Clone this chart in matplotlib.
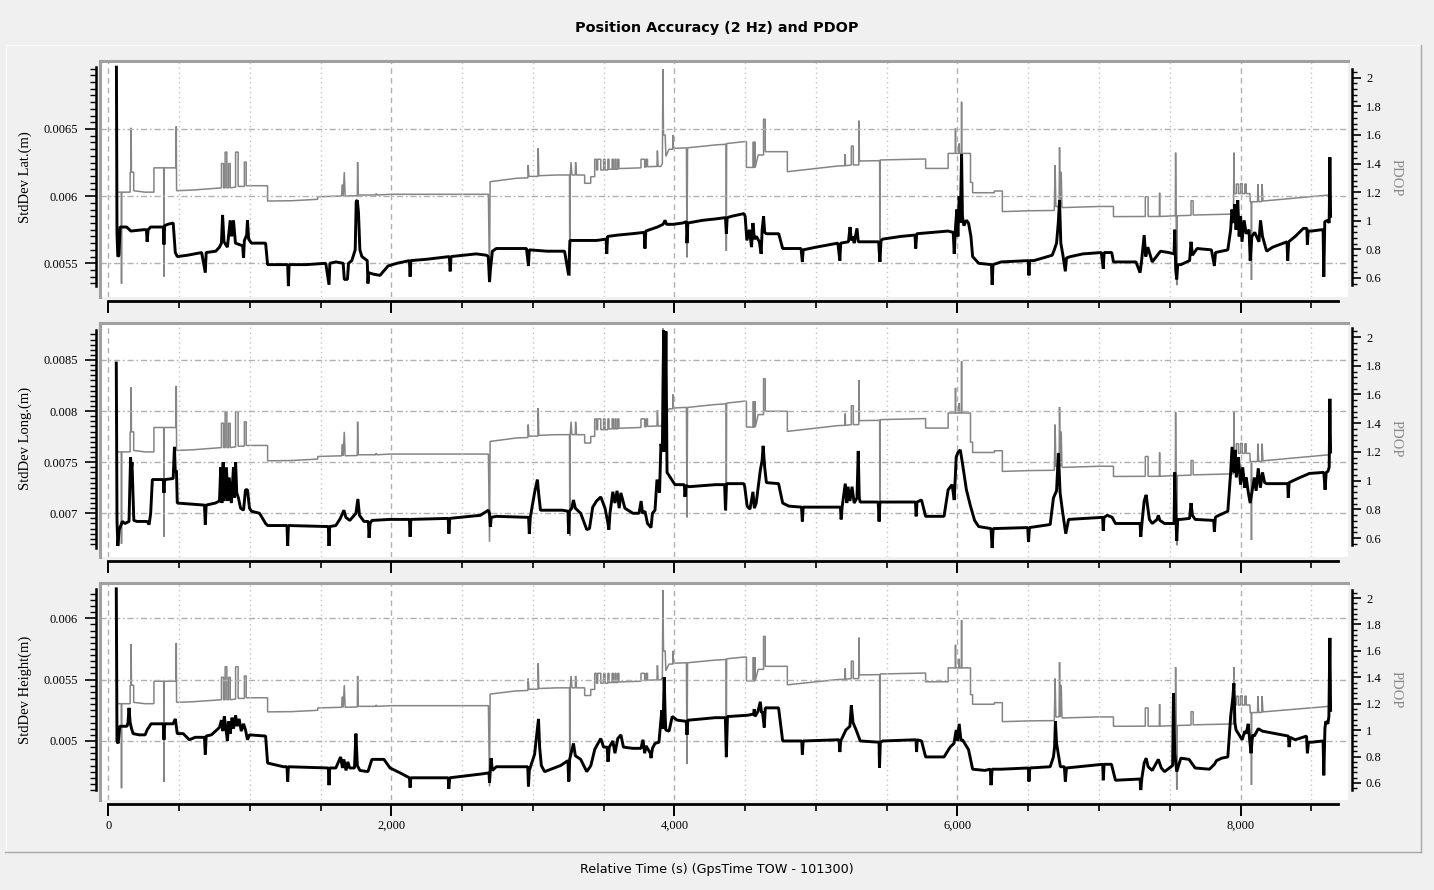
import numpy as np
import matplotlib
matplotlib.use("Agg")
import matplotlib.pyplot as plt
from matplotlib.lines import Line2D
from matplotlib.ticker import FixedLocator, FuncFormatter

# ---------------- data (time in s) ----------------
PDOP = [
    (62, 1.20), (92, 1.20), (94, 0.56), (96, 1.20), (155, 1.20), (155, 1.34), (161, 1.34), (162, 1.65),
    (164, 1.34), (180, 1.34), (180, 1.21), (260, 1.20), (323, 1.20), (323, 1.37), (392, 1.37), (394, 0.61),
    (396, 1.37), (479, 1.37), (481, 1.66), (483, 1.21), (600, 1.215), (729, 1.225), (800, 1.23), (800, 1.40),
    (815, 1.40), (815, 1.23), (826, 1.23), (826, 1.48), (838, 1.48), (838, 1.23), (850, 1.23), (850, 1.40),
    (862, 1.40), (862, 1.23), (900, 1.235), (900, 1.48), (918, 1.48), (918, 1.24), (962, 1.24), (962, 1.41),
    (975, 1.41), (975, 1.245), (1126, 1.245), (1126, 1.138), (1296, 1.14), (1480, 1.15), (1480, 1.168),
    (1650, 1.173), (1652, 1.25), (1658, 1.25), (1660, 1.173), (1668, 1.34), (1674, 1.173), (1760, 1.175),
    (1762, 1.41), (1766, 1.18), (1890, 1.18), (1892, 1.19), (1900, 1.18), (1997, 1.185), (2686, 1.185),
    (2694, 0.574), (2698, 1.273), (2884, 1.297), (2965, 1.30), (2967, 1.39), (2972, 1.31), (3036, 1.31),
    (3038, 1.506), (3042, 1.315), (3168, 1.32), (3259, 1.32), (3261, 0.614), (3264, 1.32), (3270, 1.41),
    (3276, 1.32), (3300, 1.32), (3302, 1.41), (3308, 1.32), (3366, 1.32), (3366, 1.262), (3409, 1.262),
    (3409, 1.308), (3437, 1.308), (3437, 1.43), (3450, 1.43), (3450, 1.355), (3458, 1.355), (3458, 1.43),
    (3480, 1.43), (3480, 1.355), (3500, 1.355), (3500, 1.43), (3510, 1.43), (3510, 1.355), (3530, 1.355),
    (3530, 1.43), (3538, 1.43), (3538, 1.36), (3560, 1.36), (3560, 1.43), (3568, 1.43), (3568, 1.36),
    (3580, 1.36), (3580, 1.43), (3588, 1.43), (3588, 1.36), (3600, 1.36), (3600, 1.43), (3608, 1.43),
    (3608, 1.365), (3764, 1.37), (3764, 1.43), (3790, 1.43), (3790, 1.375), (3800, 1.375), (3800, 1.43),
    (3810, 1.43), (3810, 1.378), (3877, 1.38), (3880, 1.49), (3885, 1.38), (3905, 1.38), (3915, 1.40),
    (3919, 2.06), (3923, 1.60), (3935, 1.60), (3940, 1.45), (3962, 1.50), (3988, 1.50), (3990, 1.60),
    (3993, 1.506), (4085, 1.51), (4089, 0.744), (4093, 1.51), (4289, 1.53), (4365, 1.535), (4367, 0.79),
    (4369, 1.54), (4491, 1.553), (4509, 1.553), (4509, 1.373), (4556, 1.373), (4558, 1.553), (4560, 1.373),
    (4567, 1.373), (4569, 1.553), (4571, 1.373), (4592, 1.46), (4630, 1.46), (4630, 1.71), (4642, 1.71),
    (4642, 1.483), (4798, 1.483), (4798, 1.343), (5155, 1.383), (5205, 1.385), (5207, 1.467), (5209, 1.385),
    (5250, 1.39), (5250, 1.522), (5264, 1.522), (5264, 1.39), (5303, 1.39), (5305, 1.70), (5307, 1.418),
    (5450, 1.42), (5452, 0.714), (5454, 1.425), (5775, 1.432), (5775, 1.366), (5934, 1.366), (5934, 1.471),
    (5984, 1.471), (5986, 1.646), (5988, 1.471), (6010, 1.471), (6012, 1.54), (6014, 1.471), (6027, 1.471),
    (6029, 1.832), (6031, 1.471), (6092, 1.471), (6092, 1.268), (6107, 1.268), (6107, 1.196), (6260, 1.196),
    (6260, 1.208), (6317, 1.208), (6317, 1.064), (6511, 1.07), (6684, 1.072), (6690, 1.39), (6695, 1.10),
    (6718, 1.10), (6721, 1.513), (6726, 1.10), (6733, 1.343), (6738, 1.10), (6741, 1.092), (7001, 1.10),
    (7102, 1.10), (7102, 1.029), (7327, 1.03), (7327, 1.168), (7347, 1.168), (7347, 1.03), (7426, 1.03),
    (7428, 1.196), (7430, 1.03), (7539, 1.035), (7541, 1.476), (7545, 1.035), (7549, 0.55), (7553, 1.035),
    (7650, 1.038), (7650, 1.14), (7665, 1.14), (7665, 1.04), (7930, 1.047), (7950, 1.047), (7953, 1.476),
    (7956, 1.19), (7970, 1.19), (7970, 1.257), (7985, 1.257), (7985, 1.19), (8000, 1.19), (8000, 1.26),
    (8012, 1.26), (8012, 1.19), (8030, 1.19), (8030, 1.257), (8040, 1.257), (8040, 1.19), (8066, 1.19),
    (8068, 1.133), (8075, 1.133), (8077, 0.586), (8079, 1.133), (8120, 1.133), (8122, 1.257), (8128, 1.133),
    (8150, 1.135), (8152, 1.257), (8158, 1.138), (8617, 1.18), (8625, 1.18),
]

LAT = [
    (58, 0.00696), (62, 0.00572), (68, 0.00555), (76, 0.00556), (84, 0.00577), (130, 0.00577), (160, 0.00574),
    (250, 0.00575), (270, 0.00575), (275, 0.00566), (282, 0.00575), (300, 0.00577), (389, 0.00577),
    (394, 0.00564), (399, 0.00578), (420, 0.00579), (459, 0.00580), (474, 0.00558), (488, 0.00555),
    (560, 0.00556), (660, 0.00558), (686, 0.00543), (692, 0.00558), (760, 0.00559), (786, 0.00562),
    (800, 0.00565), (808, 0.00586), (818, 0.00566), (842, 0.00562), (862, 0.00582), (872, 0.00570),
    (885, 0.00582), (899, 0.00565), (950, 0.00563), (956, 0.00554), (962, 0.00567), (978, 0.00571),
    (984, 0.00582), (992, 0.00568), (1012, 0.00565), (1112, 0.00565), (1126, 0.00549), (1268, 0.00549),
    (1273, 0.00533), (1278, 0.00549), (1400, 0.00549), (1537, 0.00550), (1560, 0.00534), (1566, 0.00550),
    (1608, 0.00551), (1660, 0.00550), (1668, 0.00538), (1690, 0.00538), (1698, 0.00550), (1721, 0.00552),
    (1745, 0.00560), (1752, 0.00596), (1760, 0.00597), (1768, 0.00588), (1778, 0.00560), (1792, 0.00555),
    (1830, 0.00552), (1835, 0.00535), (1840, 0.00543), (1870, 0.00542), (1920, 0.00541), (1977, 0.00548),
    (2040, 0.00550), (2128, 0.00552), (2133, 0.00540), (2138, 0.00552), (2250, 0.00553), (2410, 0.00555),
    (2416, 0.00544), (2422, 0.00555), (2600, 0.00557), (2672, 0.00556), (2685, 0.00555), (2694, 0.00536),
    (2700, 0.00545), (2714, 0.00559), (2742, 0.00561), (2955, 0.00561), (2969, 0.00548), (2975, 0.00560),
    (3100, 0.00559), (3224, 0.00559), (3253, 0.00541), (3262, 0.00567), (3451, 0.00567), (3518, 0.00568),
    (3522, 0.00557), (3528, 0.00570), (3600, 0.00571), (3700, 0.00572), (3787, 0.00573), (3792, 0.00561),
    (3798, 0.00574), (3880, 0.00577), (3920, 0.00579), (3934, 0.00582), (3945, 0.00579), (3990, 0.00579),
    (4060, 0.00580), (4085, 0.00581), (4089, 0.00565), (4095, 0.00580), (4200, 0.00582), (4289, 0.00583),
    (4361, 0.00584), (4367, 0.00572), (4373, 0.00584), (4405, 0.00585), (4491, 0.00587), (4500, 0.00585),
    (4512, 0.00567), (4530, 0.00575), (4545, 0.00562), (4555, 0.00580), (4565, 0.00568), (4580, 0.00570),
    (4600, 0.00566), (4613, 0.00557), (4620, 0.00575), (4630, 0.00585), (4638, 0.00573), (4650, 0.00572),
    (4737, 0.00572), (4765, 0.00561), (4895, 0.00561), (4904, 0.00551), (4910, 0.00560), (5000, 0.00562),
    (5155, 0.00565), (5169, 0.00552), (5175, 0.00565), (5230, 0.00566), (5241, 0.00577), (5250, 0.00567),
    (5262, 0.00570), (5270, 0.00565), (5290, 0.00576), (5299, 0.00566), (5313, 0.00566), (5443, 0.00566),
    (5452, 0.00551), (5460, 0.00567), (5472, 0.00568), (5600, 0.00570), (5700, 0.00571), (5705, 0.00561),
    (5712, 0.00572), (5934, 0.00574), (5970, 0.00573), (5977, 0.00557), (5985, 0.00575), (5995, 0.00590),
    (6003, 0.00570), (6012, 0.00600), (6020, 0.00580), (6029, 0.00631), (6035, 0.00585), (6045, 0.00578),
    (6063, 0.00582), (6078, 0.00580), (6095, 0.00570), (6107, 0.00555), (6150, 0.00550), (6240, 0.00549),
    (6245, 0.00534), (6251, 0.00549), (6309, 0.00551), (6500, 0.00552), (6505, 0.00541), (6510, 0.00552),
    (6540, 0.00552), (6669, 0.00556), (6684, 0.00560), (6700, 0.00565), (6712, 0.00580), (6721, 0.00597),
    (6730, 0.00565), (6745, 0.00556), (6762, 0.00544), (6770, 0.00554), (6799, 0.00555), (6886, 0.00557),
    (7016, 0.00558), (7030, 0.00546), (7036, 0.00558), (7090, 0.00558), (7102, 0.00551), (7261, 0.00551),
    (7290, 0.00543), (7300, 0.00551), (7319, 0.00571), (7330, 0.00555), (7345, 0.00562), (7376, 0.00551),
    (7434, 0.00559), (7492, 0.00558), (7530, 0.00557), (7535, 0.00575), (7542, 0.00545), (7549, 0.00538),
    (7556, 0.00549), (7578, 0.00549), (7640, 0.00552), (7650, 0.00566), (7660, 0.00556), (7693, 0.00561),
    (7794, 0.00560), (7815, 0.00548), (7823, 0.00558), (7910, 0.00560), (7930, 0.00575), (7939, 0.00590),
    (7950, 0.00580), (7960, 0.00594), (7968, 0.00575), (7980, 0.00597), (7990, 0.00570), (8000, 0.00585),
    (8010, 0.00566), (8025, 0.00582), (8040, 0.00572), (8060, 0.00575), (8068, 0.00552), (8080, 0.00570),
    (8100, 0.00573), (8130, 0.00566), (8141, 0.00582), (8155, 0.00570), (8184, 0.00559), (8227, 0.00562),
    (8328, 0.00566), (8333, 0.00552), (8340, 0.00566), (8386, 0.00570), (8444, 0.00576), (8468, 0.00576),
    (8472, 0.00564), (8478, 0.00574), (8501, 0.00574), (8573, 0.00575), (8583, 0.00575), (8588, 0.00540),
    (8595, 0.00581), (8617, 0.00582), (8626, 0.00580), (8631, 0.00629), (8636, 0.00585),
]

LON = [
    (57, 0.00847), (62, 0.00693), (68, 0.00668), (78, 0.00684), (100, 0.00692), (119, 0.00690),
    (147, 0.00692), (152, 0.00720), (158, 0.00755), (163, 0.00741), (168, 0.00750), (175, 0.00720),
    (181, 0.00693), (204, 0.00692), (275, 0.00692), (289, 0.00689), (300, 0.00700), (312, 0.00733),
    (389, 0.00733), (394, 0.00720), (399, 0.00733), (459, 0.00734), (468, 0.00765), (474, 0.00740),
    (482, 0.00742), (488, 0.00710), (680, 0.00708), (686, 0.00689), (692, 0.00708), (757, 0.00710),
    (786, 0.00712), (795, 0.00745), (803, 0.00710), (812, 0.00750), (820, 0.00712), (835, 0.00745),
    (845, 0.00712), (855, 0.00735), (870, 0.00710), (885, 0.00745), (892, 0.00715), (900, 0.00750),
    (908, 0.00720), (920, 0.00715), (935, 0.00705), (956, 0.00703), (970, 0.00723), (984, 0.00723),
    (998, 0.00705), (1012, 0.00702), (1069, 0.00700), (1112, 0.00690), (1126, 0.00688), (1263, 0.00688),
    (1268, 0.00668), (1273, 0.00688), (1555, 0.00687), (1560, 0.00668), (1565, 0.00687), (1608, 0.00688),
    (1640, 0.00695), (1665, 0.00703), (1679, 0.00696), (1707, 0.00693), (1750, 0.00700), (1764, 0.00714),
    (1775, 0.00698), (1807, 0.00692), (1838, 0.00692), (1843, 0.00676), (1850, 0.00690), (1863, 0.00693),
    (1991, 0.00694), (2128, 0.00694), (2133, 0.00677), (2138, 0.00694), (2402, 0.00695), (2407, 0.00680),
    (2413, 0.00695), (2629, 0.00698), (2686, 0.00703), (2694, 0.00700), (2700, 0.00687), (2706, 0.00696),
    (2742, 0.00697), (2970, 0.00696), (2975, 0.00680), (2982, 0.00696), (3012, 0.00720), (3032, 0.00733),
    (3042, 0.00718), (3054, 0.00703), (3210, 0.00703), (3248, 0.00702), (3253, 0.00680), (3258, 0.00702),
    (3275, 0.00705), (3287, 0.00713), (3300, 0.00705), (3338, 0.00700), (3381, 0.00684), (3400, 0.00685),
    (3423, 0.00706), (3450, 0.00712), (3480, 0.00716), (3510, 0.00705), (3531, 0.00690), (3537, 0.00684),
    (3545, 0.00700), (3565, 0.00721), (3580, 0.00710), (3595, 0.00722), (3610, 0.00705), (3622, 0.00720),
    (3650, 0.00705), (3707, 0.00700), (3750, 0.00700), (3765, 0.00712), (3775, 0.00700), (3792, 0.00702),
    (3810, 0.00690), (3835, 0.00686), (3845, 0.00700), (3863, 0.00703), (3877, 0.00733), (3895, 0.00720),
    (3905, 0.00768), (3915, 0.00760), (3924, 0.00879), (3932, 0.00760), (3940, 0.00878), (3948, 0.00740),
    (3962, 0.00737), (4004, 0.00728), (4070, 0.00728), (4075, 0.00716), (4082, 0.00727), (4104, 0.00726),
    (4289, 0.00728), (4355, 0.00728), (4361, 0.00703), (4368, 0.00729), (4491, 0.00729), (4497, 0.00726),
    (4514, 0.00707), (4534, 0.00704), (4555, 0.00721), (4565, 0.00705), (4578, 0.00710), (4607, 0.00742),
    (4620, 0.00752), (4627, 0.00766), (4638, 0.00745), (4650, 0.00730), (4736, 0.00729), (4765, 0.00710),
    (4808, 0.00707), (4898, 0.00706), (4904, 0.00692), (4910, 0.00706), (5173, 0.00706), (5178, 0.00694),
    (5185, 0.00706), (5207, 0.00729), (5218, 0.00710), (5227, 0.00726), (5240, 0.00712), (5255, 0.00726),
    (5270, 0.00710), (5290, 0.00715), (5299, 0.00761), (5306, 0.00715), (5313, 0.00711), (5440, 0.00711),
    (5446, 0.00692), (5452, 0.00711), (5703, 0.00711), (5708, 0.00697), (5714, 0.00711), (5746, 0.00713),
    (5775, 0.00697), (5905, 0.00697), (5934, 0.00723), (5962, 0.00728), (5977, 0.00713), (5991, 0.00755),
    (6005, 0.00760), (6020, 0.00762), (6035, 0.00749), (6063, 0.00723), (6092, 0.00707), (6121, 0.00693),
    (6150, 0.00687), (6237, 0.00685), (6245, 0.00666), (6252, 0.00685), (6496, 0.00686), (6502, 0.00672),
    (6508, 0.00686), (6655, 0.00689), (6678, 0.00715), (6700, 0.00722), (6713, 0.00759), (6725, 0.00720),
    (6741, 0.00703), (6765, 0.00680), (6785, 0.00694), (7025, 0.00696), (7030, 0.00683), (7035, 0.00696),
    (7059, 0.00698), (7093, 0.00696), (7116, 0.00690), (7290, 0.00690), (7295, 0.00677), (7303, 0.00690),
    (7319, 0.00712), (7333, 0.00718), (7345, 0.00705), (7356, 0.00694), (7376, 0.00690), (7410, 0.00694),
    (7419, 0.00698), (7430, 0.00693), (7463, 0.00690), (7530, 0.00690), (7535, 0.00740), (7542, 0.00700),
    (7549, 0.00673), (7556, 0.00694), (7578, 0.00694), (7640, 0.00695), (7650, 0.00710), (7660, 0.00698),
    (7679, 0.00694), (7810, 0.00693), (7815, 0.00682), (7822, 0.00696), (7832, 0.00697), (7910, 0.00702),
    (7930, 0.00740), (7940, 0.00765), (7953, 0.00740), (7962, 0.00762), (7970, 0.00735), (7985, 0.00755),
    (8000, 0.00728), (8015, 0.00745), (8030, 0.00725), (8040, 0.00735), (8055, 0.00720), (8068, 0.00710),
    (8085, 0.00725), (8097, 0.00735), (8110, 0.00722), (8125, 0.00744), (8140, 0.00725), (8155, 0.00740),
    (8170, 0.00730), (8184, 0.00729), (8333, 0.00729), (8337, 0.00715), (8343, 0.00730), (8357, 0.00731),
    (8420, 0.00735), (8487, 0.00739), (8588, 0.00740), (8597, 0.00723), (8605, 0.00740), (8617, 0.00741),
    (8626, 0.00745), (8631, 0.00812), (8636, 0.00760),
]

HGT = [
    (57, 0.00624), (62, 0.00500), (70, 0.00498), (77, 0.00506), (82, 0.00512), (133, 0.00512),
    (140, 0.00515), (147, 0.00527), (155, 0.00515), (165, 0.00510), (176, 0.00506), (218, 0.00505),
    (261, 0.00505), (275, 0.00509), (303, 0.00514), (389, 0.00514), (394, 0.00501), (399, 0.00514),
    (459, 0.00514), (474, 0.00518), (488, 0.00506), (530, 0.00506), (573, 0.00501), (615, 0.00503),
    (680, 0.00503), (686, 0.00489), (692, 0.00504), (729, 0.00505), (786, 0.00511), (800, 0.00517),
    (810, 0.00508), (820, 0.00520), (830, 0.00512), (842, 0.00500), (852, 0.00516), (862, 0.00506),
    (875, 0.00519), (885, 0.00510), (900, 0.00521), (910, 0.00512), (925, 0.00518), (940, 0.00508),
    (956, 0.00514), (970, 0.00509), (984, 0.00501), (998, 0.00505), (1112, 0.00504), (1126, 0.00482),
    (1239, 0.00479), (1263, 0.00479), (1268, 0.00467), (1273, 0.00479), (1555, 0.00478), (1560, 0.00464),
    (1565, 0.00478), (1608, 0.00478), (1642, 0.00487), (1655, 0.00478), (1665, 0.00485), (1680, 0.00476),
    (1693, 0.00483), (1705, 0.00478), (1740, 0.00478), (1750, 0.00506), (1760, 0.00480), (1778, 0.00476),
    (1835, 0.00475), (1863, 0.00485), (1948, 0.00485), (1991, 0.00478), (2062, 0.00474), (2128, 0.00470),
    (2133, 0.00462), (2138, 0.00470), (2402, 0.00470), (2406, 0.00461), (2413, 0.00470), (2629, 0.00473),
    (2690, 0.00474), (2694, 0.00466), (2705, 0.00486), (2714, 0.00476), (2742, 0.00479), (2964, 0.00479),
    (2969, 0.00463), (2975, 0.00476), (3012, 0.00489), (3032, 0.00510), (3040, 0.00518), (3048, 0.00495),
    (3060, 0.00480), (3083, 0.00475), (3196, 0.00480), (3248, 0.00484), (3253, 0.00467), (3260, 0.00485),
    (3287, 0.00498), (3300, 0.00488), (3338, 0.00485), (3381, 0.00475), (3410, 0.00480), (3437, 0.00493),
    (3460, 0.00498), (3480, 0.00502), (3500, 0.00495), (3525, 0.00495), (3531, 0.00483), (3540, 0.00495),
    (3565, 0.00500), (3580, 0.00490), (3600, 0.00502), (3622, 0.00505), (3640, 0.00495), (3707, 0.00494),
    (3764, 0.00494), (3778, 0.00501), (3790, 0.00490), (3800, 0.00496), (3830, 0.00490), (3835, 0.00486),
    (3845, 0.00494), (3863, 0.00498), (3891, 0.00499), (3911, 0.00525), (3920, 0.00510), (3928, 0.00552),
    (3935, 0.00520), (3939, 0.00509), (3962, 0.00508), (3985, 0.00520), (4019, 0.00517), (4084, 0.00516),
    (4089, 0.00505), (4095, 0.00517), (4104, 0.00517), (4289, 0.00519), (4360, 0.00519), (4367, 0.00487),
    (4375, 0.00520), (4390, 0.00520), (4520, 0.00521), (4560, 0.00522), (4564, 0.00526), (4570, 0.00520),
    (4590, 0.00524), (4607, 0.00532), (4615, 0.00523), (4622, 0.00524), (4635, 0.00511), (4642, 0.00527),
    (4736, 0.00527), (4765, 0.00500), (4900, 0.00500), (4904, 0.00489), (4910, 0.00500), (5163, 0.00501),
    (5169, 0.00491), (5175, 0.00500), (5212, 0.00509), (5240, 0.00512), (5250, 0.00529), (5262, 0.00515),
    (5284, 0.00509), (5313, 0.00500), (5446, 0.00499), (5449, 0.00478), (5455, 0.00499), (5472, 0.00500),
    (5707, 0.00501), (5711, 0.00491), (5716, 0.00501), (5746, 0.00500), (5775, 0.00487), (5905, 0.00487),
    (5948, 0.00495), (5975, 0.00498), (5991, 0.00509), (6000, 0.00500), (6012, 0.00514), (6025, 0.00500),
    (6035, 0.00501), (6078, 0.00493), (6107, 0.00477), (6193, 0.00476), (6232, 0.00477), (6237, 0.00464),
    (6245, 0.00477), (6309, 0.00477), (6500, 0.00478), (6505, 0.00467), (6511, 0.00478), (6655, 0.00479),
    (6678, 0.00487), (6686, 0.00495), (6692, 0.00516), (6700, 0.00498), (6727, 0.00479), (6755, 0.00479),
    (6762, 0.00467), (6770, 0.00478), (7026, 0.00481), (7030, 0.00468), (7036, 0.00481), (7088, 0.00481),
    (7116, 0.00468), (7290, 0.00469), (7295, 0.00460), (7303, 0.00470), (7319, 0.00482), (7333, 0.00486),
    (7347, 0.00479), (7376, 0.00476), (7419, 0.00485), (7440, 0.00478), (7463, 0.00475), (7520, 0.00480),
    (7526, 0.00539), (7535, 0.00490), (7549, 0.00475), (7578, 0.00486), (7636, 0.00485), (7679, 0.00478),
    (7780, 0.00477), (7815, 0.00481), (7830, 0.00484), (7867, 0.00486), (7910, 0.00487), (7930, 0.00520),
    (7945, 0.00535), (7953, 0.00547), (7960, 0.00515), (7968, 0.00509), (7990, 0.00505), (8011, 0.00501),
    (8030, 0.00508), (8040, 0.00506), (8054, 0.00514), (8065, 0.00500), (8074, 0.00490), (8085, 0.00505),
    (8097, 0.00504), (8125, 0.00510), (8155, 0.00508), (8338, 0.00504), (8343, 0.00495), (8350, 0.00503),
    (8386, 0.00501), (8466, 0.00504), (8472, 0.00490), (8480, 0.00499), (8501, 0.00499), (8583, 0.00500),
    (8588, 0.00472), (8596, 0.00510), (8602, 0.00516), (8617, 0.00514), (8624, 0.00520), (8631, 0.00584),
    (8636, 0.00525),
]

Y_LABELS = ["StdDev Lat.(m)", "StdDev Long.(m)", "StdDev Height(m)"]
Y_MAJOR = [[0.0055, 0.006, 0.0065], [0.007, 0.0075, 0.008, 0.0085], [0.005, 0.0055, 0.006]]
PDOP_MAJOR = [0.6, 0.8, 1.0, 1.2, 1.4, 1.6, 1.8, 2.0]
X_MAJOR = [0, 2000, 4000, 6000, 8000]
TITLE = "Position Accuracy (2 Hz) and PDOP"
X_LABEL = "Relative Time (s) (GpsTime TOW - 101300)"

# ---------------- layout (pixels) ----------------
W, H = 1434, 890
BG = "#f0f0f0"
plt.rcParams["font.family"] = ["Liberation Serif", "DejaVu Serif"]

fig = plt.figure(figsize=(W / 100, H / 100), dpi=100, facecolor=BG)

BOXES = [(100, 61, 1348, 297), (100, 322.7, 1348, 556.7), (100, 582.7, 1348, 800)]
YLIMS = [(0.005249, 0.007006), (0.006575, 0.008865), (0.004519, 0.00629)]
PLIMS = [(0.467, 2.117), (0.470, 2.100), (0.471, 2.116)]
XLIM = (-58, 8759)
X_AXIS_END = 8690

PX = 0.72  # points per pixel at 100 dpi
grid_c = "#b0b0b0"

def minor_between(lo, hi, step):
    k0 = int(np.ceil(lo / step - 1e-6))
    k1 = int(np.floor(hi / step + 1e-6))
    return [k * step for k in range(k0, k1 + 1)]

series = [LAT, LON, HGT]
pt_t = [p[0] for p in PDOP]
pt_v = [p[1] for p in PDOP]

for i in range(3):
    x0, y0, x1, y1 = BOXES[i]
    rect = [x0 / W, 1 - y1 / H, (x1 - x0) / W, (y1 - y0) / H]
    ax = fig.add_axes(rect)
    ax2 = ax.twinx()
    ax.set_zorder(ax2.get_zorder() + 1)
    ax.patch.set_visible(False)
    ax2.patch.set_visible(True)
    ax2.patch.set_facecolor("white")

    t = [p[0] for p in series[i]]
    v = [p[1] for p in series[i]]

    ax2.plot(pt_t, pt_v, color="#858585", lw=1.1, solid_joinstyle="bevel")
    ax.plot(t, v, color="black", lw=2.1, solid_joinstyle="bevel")

    ax.set_xlim(*XLIM)
    ax.set_ylim(*YLIMS[i])
    ax2.set_ylim(*PLIMS[i])

    # spines
    ax.spines["right"].set_visible(False)
    ax.spines["top"].set_color("#a0a0a0")
    ax.spines["top"].set_linewidth(2.2)
    ax.spines["left"].set_position(("outward", 4 * PX))
    ax.spines["left"].set_linewidth(1.8)
    ax.spines["left"].set_bounds(min(v), max(v))
    ax.spines["bottom"].set_position(("outward", 4 * PX))
    ax.spines["bottom"].set_linewidth(2.0)
    ax.spines["bottom"].set_bounds(0, X_AXIS_END)
    for s in ("top", "left", "bottom"):
        ax2.spines[s].set_visible(False)
    ax2.spines["right"].set_position(("outward", 4 * PX))
    ax2.spines["right"].set_linewidth(1.8)
    ax2.spines["right"].set_bounds(min(pt_v), max(pt_v))

    ax.add_line(Line2D([0, 0], [0, 1], transform=ax.transAxes, color="#a0a0a0", lw=2.2, clip_on=False))

    # ticks
    ax.yaxis.set_major_locator(FixedLocator(Y_MAJOR[i]))
    ax.yaxis.set_minor_locator(FixedLocator(minor_between(min(v), max(v), 0.00005)))
    ax.yaxis.set_major_formatter(FuncFormatter(lambda y, p: "%g" % y))
    ax.xaxis.set_major_locator(FixedLocator(X_MAJOR))
    ax.xaxis.set_minor_locator(FixedLocator(minor_between(0, X_AXIS_END, 500)))
    ax.xaxis.set_major_formatter(FuncFormatter(lambda x, p: "{:,.0f}".format(x)))
    ax2.yaxis.set_major_locator(FixedLocator(PDOP_MAJOR))
    ax2.yaxis.set_minor_locator(FixedLocator(minor_between(min(pt_v), max(pt_v), 0.04)))
    ax2.yaxis.set_major_formatter(FuncFormatter(lambda y, p: "%g" % round(y, 2)))

    ax.tick_params(axis="y", which="major", direction="out", length=11 * PX, width=1.2,
                   pad=7 * PX, labelsize=9, left=True, right=False)
    ax.tick_params(axis="y", which="minor", direction="out", length=6 * PX, width=1.0, left=True, right=False)
    ax.tick_params(axis="x", which="major", direction="out", length=12 * PX, width=1.4,
                   pad=4 * PX, labelsize=9, bottom=True, top=False, labelbottom=(i == 2))
    ax.tick_params(axis="x", which="minor", direction="out", length=7 * PX, width=1.2, bottom=True, top=False)
    ax2.tick_params(axis="y", which="major", direction="out", length=9 * PX, width=1.2,
                    pad=5 * PX, labelsize=9, right=True, left=False)
    ax2.tick_params(axis="y", which="minor", direction="out", length=5 * PX, width=1.0, right=True, left=False)

    # grid
    ax.yaxis.grid(True, which="major", color=grid_c, lw=1.0, linestyle=(0, (4.5, 2, 1.2, 2)))
    ax.xaxis.grid(True, which="major", color=grid_c, lw=1.0, linestyle=(0, (4, 3)))
    ax.xaxis.grid(True, which="minor", color="#c4c4c4", lw=1.0, linestyle=(0, (1, 2.5)))
    ax.set_axisbelow(True)

    ax.set_ylabel(Y_LABELS[i], fontsize=10.5)
    ax.yaxis.set_label_coords((32 - x0) / (x1 - x0), 0.506)
    ax2.set_ylabel("PDOP", fontsize=10.5, color="#8a8a8a", rotation=270, va="center")
    ax2.yaxis.set_label_coords((1396 - x0) / (x1 - x0), 0.506)

# outer etched frame
def fline(xa, ya, xb, yb, c, lw=1.0):
    fig.add_artist(Line2D([xa / W, xb / W], [1 - ya / H, 1 - yb / H], transform=fig.transFigure,
                          color=c, lw=lw))

fline(6, 45, 1420, 45, "#fafafa", 1.0)
fline(6, 45, 6, 851, "#fafafa", 1.0)
fline(5, 852, 1421, 852, "#a8a8a8", 1.0)
fline(1421, 45, 1421, 852, "#a8a8a8", 1.0)

fig.text(717 / W, 1 - 28 / H, TITLE, ha="center", va="center", fontsize=10.4,
         fontweight="bold", family=["DejaVu Sans"])
fig.text(717 / W, 1 - 870 / H, X_LABEL, ha="center", va="center", fontsize=9.2,
         family=["DejaVu Sans"])

fig.savefig("out.png", dpi=100, facecolor=BG)
